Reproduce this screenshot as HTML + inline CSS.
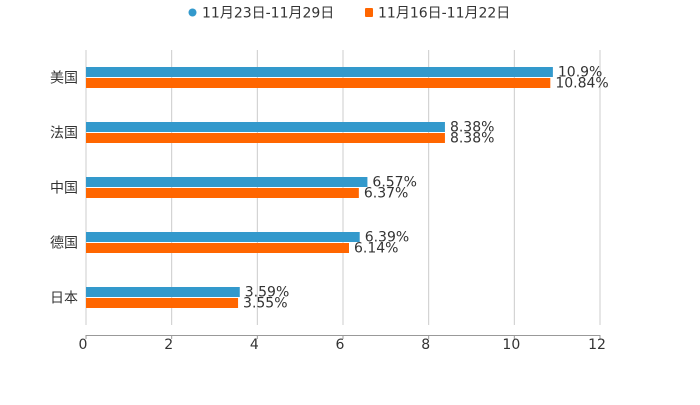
<!DOCTYPE html>
<html><head><meta charset="utf-8"><style>
body{margin:0;background:#fff;}
svg text{font-family:"DejaVu Sans","Liberation Sans","Noto Sans CJK SC",sans-serif;fill:#333;}
</style></head><body>
<svg id="c" width="700" height="400" xmlns="http://www.w3.org/2000/svg">
<g>
<g><circle cx="192.5" cy="12.5" r="4" fill="#3399cc"/><text x="202" y="17.5" font-size="14">11月23日-11月29日</text></g>
<g><rect x="365" y="8" width="8" height="9" rx="1" fill="#ff6600"/><text x="378" y="17.5" font-size="14">11月16日-11月22日</text></g>
</g>
<g id="grid"></g>
<g id="bars"></g>
<g id="axes"></g>
</svg>
<script>
const categories=["美国","法国","中国","德国","日本"];
const seriesA=[10.9,8.38,6.57,6.39,3.59];
const seriesB=[10.84,8.38,6.37,6.14,3.55];
const labelsA=["10.9%","8.38%","6.57%","6.39%","3.59%"];
const labelsB=["10.84%","8.38%","6.37%","6.14%","3.55%"];
const xTicks=[0,2,4,6,8,10,12];
const NS="http://www.w3.org/2000/svg";
const x0=86,x1=600,xMax=12,plotTop=50,band=55;
const xs=v=>x0+v/xMax*(x1-x0);
const yc=i=>plotTop+band*i+band/2;
function mk(t,a,p){const e=document.createElementNS(NS,t);for(const k in a)e.setAttribute(k,a[k]);p.appendChild(e);return e;}
const grid=document.getElementById('grid'),bars=document.getElementById('bars'),axes=document.getElementById('axes');
xTicks.forEach(t=>{
 const l=mk('line',{x1:xs(t),x2:xs(t),y1:plotTop,y2:325,stroke:'#ccc','stroke-width':1},grid);
 
 
 const tk=mk('line',{x1:xs(t),x2:xs(t),y1:335,y2:339,stroke:'#999'},axes);
 
 
 const tx=mk('text',{x:xs(t)-3,y:349,'font-size':14,'text-anchor':'middle'},axes);
 tx.textContent=t;
 
 
});
const ax=mk('line',{x1:x0,x2:x1,y1:335.5,y2:335.5,stroke:'#999'},axes);


categories.forEach((c,i)=>{
 const y=yc(i);
 const t=mk('text',{x:78,y:y+5,'font-size':14,'text-anchor':'end'},axes);
 t.textContent=c;
 
 
 const a=mk('rect',{x:x0,y:y-10.5,width:xs(seriesA[i])-x0,height:10,fill:'#3399cc'},bars);
 
 
 const b=mk('rect',{x:x0,y:y+0.5,width:xs(seriesB[i])-x0,height:10,fill:'#ff6600'},bars);
 
 
 const la=mk('text',{x:xs(seriesA[i])+5,y:y-1,'font-size':14},bars);
 la.textContent=labelsA[i];
 
 
 const lb=mk('text',{x:xs(seriesB[i])+5,y:y+10,'font-size':14},bars);
 lb.textContent=labelsB[i];
 
 
});
</script>
</body></html>
